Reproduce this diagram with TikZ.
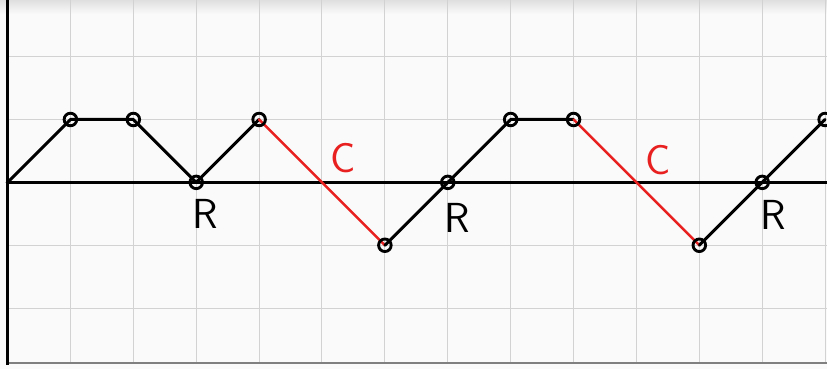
\documentclass[tikz,border=0pt]{standalone}
\usepackage{fontspec}
\definecolor{paper}{RGB}{250,250,250}
\definecolor{gridgray}{RGB}{210,210,210}
\definecolor{penred}{RGB}{232,32,32}
\tikzset{
	pen/.style={line width=1.35pt, black},
	redpen/.style={line width=1.15pt, penred},
	ring/.style={line width=1.3pt, black},
}
\begin{document}
\begin{tikzpicture}[line join=round, line cap=round, font=\sffamily\fontsize{19}{19}\selectfont]
	\useasboundingbox (-0.12,-2.96) rectangle (13.03,2.9);
	\fill[paper] (-0.12,-2.96) rectangle (13.03,2.9);
	\shade[top color=gray!25, bottom color=paper] (-0.12,2.9) rectangle (13.03,2.68);
	% grid
	\foreach \i in {1,...,13}
		\draw[gridgray, line width=0.45pt] (\i,-2.87) -- (\i,2.9);
	\foreach \j in {-2,-1,1,2}
		\draw[gridgray, line width=0.45pt] (0,\j) -- (13.03,\j);
	\draw[gray, line width=0.8pt] (0,-2.87) -- (13.03,-2.87);
	% axes
	\path (0,0) coordinate (O) (13.03,0) coordinate (Xmax) (0,-2.9) coordinate (Ymin) (0,2.9) coordinate (Ymax);
	\draw[line width=1.7pt] (O) -- (Xmax);
	\draw[line width=1.7pt, line cap=butt] (Ymin) -- (Ymax);
	% points of the path
	\path (1,1) coordinate (p1) (2,1) coordinate (p2) (3,0) coordinate (p3) (4,1) coordinate (p4)
		(6,-1) coordinate (p6) (7,0) coordinate (p7) (8,1) coordinate (p8) (9,1) coordinate (p9)
		(11,-1) coordinate (p11) (12,0) coordinate (p12) (13,1) coordinate (p13);
	\draw[pen] (O) -- (p1) -- (p2) -- (p3) -- (p4);
	\draw[redpen] (p4) -- (p6);
	\draw[pen] (p6) -- (p7) -- (p8) -- (p9);
	\draw[redpen] (p9) -- (p11);
	\draw[pen] (p11) -- (p12) -- (p13);
	\foreach \p in {p1,p2,p3,p4,p6,p7,p8,p9,p11,p12,p13}
		\draw[ring] (\p) circle (0.1);
	% labels
	\node[penred] (c1) at (5.33,0.38) {C};
	\node[penred] (c2) at (10.34,0.36) {C};
	\node (r1) at (3.15,-0.5) {R};
	\node (r2) at (7.15,-0.57) {R};
	\node (r3) at (12.18,-0.52) {R};
\end{tikzpicture}
\end{document}
